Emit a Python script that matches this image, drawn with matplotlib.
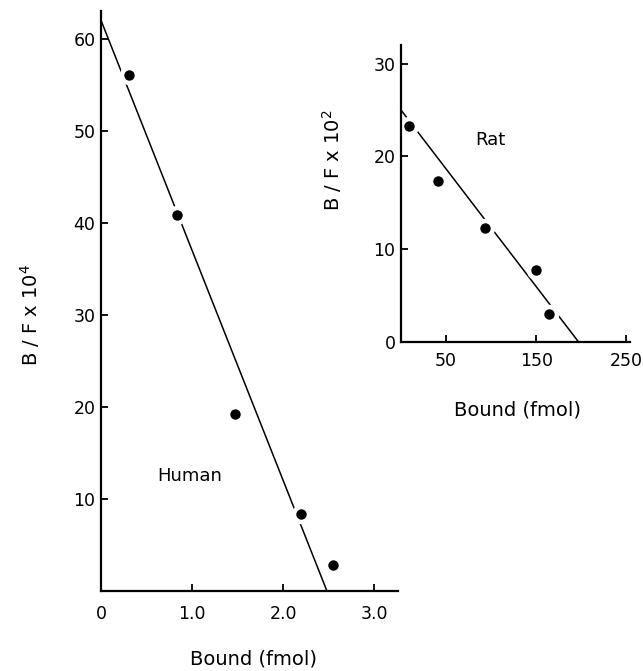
import matplotlib
matplotlib.use("Agg")
import matplotlib.pyplot as plt

# Human binding (Scatchard)
human_bound = [0.31, 0.83, 1.47, 2.19, 2.55]
human_bf = [56.1, 40.8, 19.2, 8.4, 2.8]
human_fit_x = [0.0, 2.48]
human_fit_y = [62.0, 0.0]
human_xticks = [0, 1.0, 2.0, 3.0]
human_xticklabels = ["0", "1.0", "2.0", "3.0"]
human_yticks = [10, 20, 30, 40, 50, 60]

# Rat binding
rat_bound = [9, 41, 93, 150, 164]
rat_bf = [23.3, 17.4, 12.3, 7.8, 3.0]
rat_fit_x = [0, 197]
rat_fit_y = [25.0, 0.0]
rat_xticks = [50, 150, 250]
rat_yticks = [0, 10, 20, 30]

plt.rcParams['font.family'] = ['DejaVu Sans']

fig = plt.figure(figsize=(6.43, 6.71), dpi=100)
ax1 = fig.add_axes([0.157, 0.1192, 0.462, 0.8644])
ax2 = fig.add_axes([0.6236, 0.4903, 0.3562, 0.4426])


def style(ax, xpad):
    ax.patch.set_alpha(0)
    for s in ['top', 'right']:
        ax.spines[s].set_visible(False)
    for s in ['left', 'bottom']:
        ax.spines[s].set_linewidth(1.6)
    ax.tick_params(direction='in', length=5, width=1.3, labelsize=12.5)
    ax.tick_params(axis='x', pad=xpad)
    ax.tick_params(axis='y', pad=4)


def draw(ax, x, y, fx, fy):
    ax.plot(fx, fy, color='black', lw=1.1, zorder=2, clip_on=False)
    ax.plot(x, y, 'o', color='white', ms=14, mew=0, zorder=2.2, clip_on=False)
    ax.plot(x, y, 'o', color='black', ms=7.5, mew=0, zorder=3, clip_on=False)


# left panel: human
style(ax1, 10)
draw(ax1, human_bound, human_bf, human_fit_x, human_fit_y)
ax1.set_xlim(0, 3.26)
ax1.set_ylim(0, 63)
ax1.set_xticks(human_xticks)
ax1.set_xticklabels(human_xticklabels)
ax1.set_yticks(human_yticks)
ax1.set_xlabel('Bound (fmol)', fontsize=14, va='center')
ax1.xaxis.set_label_coords(0.515, -0.117)
ax1.set_ylabel(r'B / F x 10$^4$', fontsize=14, va='center')
ax1.yaxis.set_label_coords(-0.239, 0.476)
ax1.text(0.97, 12.5, 'Human', fontsize=13, ha='center', va='center')

# right panel: rat
style(ax2, 7)
draw(ax2, rat_bound, rat_bf, rat_fit_x, rat_fit_y)
ax2.set_xlim(0, 254)
ax2.set_ylim(0, 32)
ax2.set_xticks(rat_xticks)
ax2.set_yticks(rat_yticks)
ax2.set_xlabel('Bound (fmol)', fontsize=14, va='center')
ax2.xaxis.set_label_coords(0.507, -0.229)
ax2.set_ylabel(r'B / F x 10$^2$', fontsize=14, va='center')
ax2.yaxis.set_label_coords(-0.301, 0.613)
ax2.text(99, 21.8, 'Rat', fontsize=13, ha='center', va='center')

plt.savefig('out.png', dpi=100, facecolor='white')
